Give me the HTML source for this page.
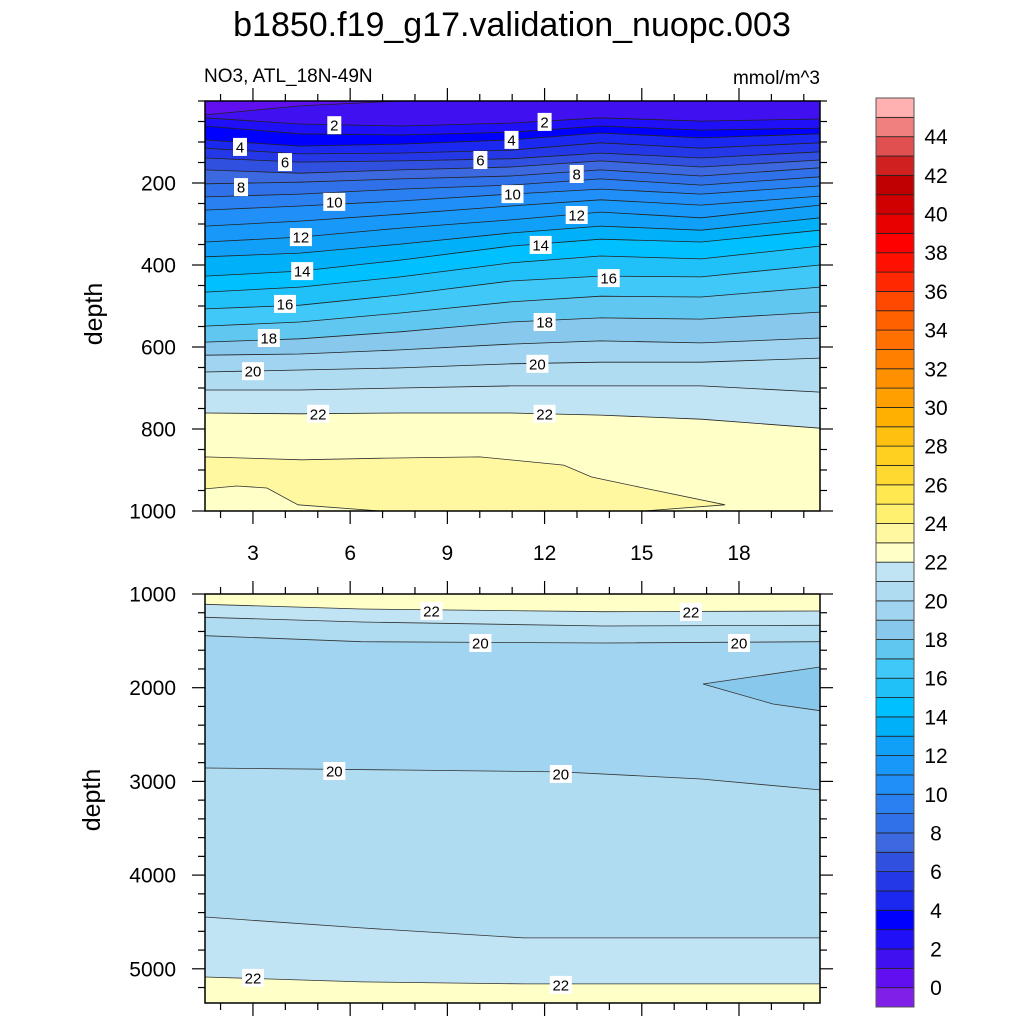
<!DOCTYPE html>
<html><head><meta charset="utf-8">
<style>
html,body{margin:0;padding:0;background:#fff;}
svg{display:block;font-family:"Liberation Sans",Arial,sans-serif;}
</style></head>
<body>
<svg id="chart" width="1024" height="1024" viewBox="0 0 1024 1024" xmlns="http://www.w3.org/2000/svg">
<text x="512" y="36" font-size="34" text-anchor="middle">b1850.f19_g17.validation_nuopc.003</text>
<text x="204" y="82" font-size="19">NO3, ATL_18N-49N</text>
<text x="820" y="84" font-size="19" text-anchor="end">mmol/m^3</text>
<text transform="translate(102,314) rotate(-90)" font-size="25" text-anchor="middle">depth</text>
<text transform="translate(100,800) rotate(-90)" font-size="25" text-anchor="middle">depth</text>
<g id="top-panel"></g>
<g id="bottom-panel"></g>
<g id="colorbar"></g>
</svg>
<script>
// ---- colour scale ----
const colorLevels = [0,1,2,3,4,5,6,7,8,9,10,11,12,13,14,15,16,17,18,19,20,21,22,23,24,25,26,27,28,29,30,31,32,33,34,35,36,37,38,39,40,41,42,43,44,45];
const colorbarLabels = [0,2,4,6,8,10,12,14,16,18,20,22,24,26,28,30,32,34,36,38,40,42,44];
const bandColors = ["#7f1fe8","#6010f0","#4010f0","#2010f8","#0000ff","#1a28f0","#2438e8","#3050e0","#3c68e0","#3070e8","#2a80f0","#2090f8","#1898f8","#10a0f8","#00b0f8","#00c0ff","#20c0f8","#40c8f8","#60c8f0","#88c8ec","#a0d4f0","#b0dcf2","#c0e4f4","#ffffc8","#fff8a0","#fff070","#ffe850","#ffd830","#ffd020","#ffc010","#ffb000","#ffa000","#ff9000","#ff8000","#ff7000","#ff6000","#ff4800","#ff2800","#ff1000","#ff0000","#e80000","#d00000","#c00000","#d02020","#e05050","#f08080","#ffb0b0"];

// ---- top panel data (depth in m) ----
const topX = [1.52,4.45,7.55,10.95,13.73,16.83,20.5];
const topLevels = [1,2,3,4,5,6,7,8,9,10,11,12,13,14,15,16,17,18,19,20,21,22];
const topDepths = [
 [34,12,0,0,0,0,0],
 [41,56,61,54,41,49,44],
 [61,80,83,76,61,71,66],
 [95,110,105,95,78,90,80],
 [115,129,127,120,102,115,102],
 [139,149,146,141,127,139,124],
 [168,176,168,161,146,161,144],
 [202,198,190,183,168,183,163],
 [234,227,215,205,190,205,185],
 [266,256,244,227,215,227,207],
 [305,293,276,256,241,254,232],
 [344,332,310,290,271,285,254],
 [380,371,349,322,305,315,285],
 [427,415,388,354,337,344,315],
 [466,454,429,395,378,385,354],
 [507,498,473,439,427,429,400],
 [549,539,517,490,476,478,454],
 [588,580,563,539,529,532,515],
 [620,617,607,593,585,590,578],
 [661,656,651,641,637,637,627],
 [705,705,700,695,695,695,710],
 [761,763,761,761,766,776,798]
];
const topWedgeX = [1.52,4.5,7.08,10,12.59,13.45,15.06,17.57,15.06,6.93,4.39,3.43,2.5,1.52];
const topWedgeD = [868,875,871,868,888,917,944,985,1000,1000,985,944,939,946];
const topWedgeValue = 23;
const topLabelX = [5.51,12.0,2.6,10.98,3.99,10.02,2.63,12.99,5.51,11.01,4.48,12.99,4.52,11.88,3.99,13.98,3.49,12.0,3.0,11.78,5.01,12.0];
const topLabelD = [59,51,112,95,149,144,210,178,246,227,332,278,415,351,495,432,578,539,659,641,763,763];
const topLabelText = ["2","2","4","4","6","6","8","8","10","10","12","12","14","14","16","16","18","18","20","20","22","22"];
const topYTicks = [200,400,600,800,1000];
const xTicks = [3,6,9,12,15,18];

// ---- bottom panel data ----
const bX4 = [1.52,6.34,13.83,20.5];
const b22aD = [1110,1160,1189,1181];
const b21aD = [1249,1299,1341,1334];
const b20aD = [1445,1509,1523,1509];
const b20bX = [1.52,7.55,12.5,16.83,20.5];
const b20bD = [2857,2878,2899,2974,3091];
const bLowX = [1.52,6.34,11.35,20.5];
const b21bD = [4447,4564,4670,4670];
const b22bD = [5087,5140,5161,5161];
const bWedgeX = [20.5,16.89,19.05,20.5];
const bWedgeD = [1779,1960,2174,2245];
const botLabelX = [8.51,16.52,10.02,18.0,5.51,12.5,3.0,12.5];
const botLabelD = [1181,1192,1523,1523,2889,2921,5097,5172];
const botLabelText = ["22","22","20","20","20","20","22","22"];
const botYTicks = [1000,2000,3000,4000,5000];

const NS = "http://www.w3.org/2000/svg";
function mk(tag, attrs, parent){
  const e = document.createElementNS(NS, tag);
  for (const k in attrs) e.setAttribute(k, attrs[k]);
  parent.appendChild(e);
  return e;
}
const L = 205, R = 820;
function xs(x){ return L + (x - 1.52) * (R - L) / (20.5 - 1.52); }
function ysTop(d){ return 101 + d * 0.41; }
function ysBot(d){ return 594 + (d - 1000) * 0.0937; }
function colorOf(v){ return bandColors[v + 1]; }

function pts(X, D, ys){ return X.map((x,i)=> xs(x).toFixed(1)+","+ys(D[i]).toFixed(1)); }

function drawLabel(g, x, y, t){
  const w = t.length > 1 ? 22 : 14;
  const r = mk('rect', {x:(x-w/2).toFixed(1), y:(y-9).toFixed(1), width:w, height:18, fill:'#fff'}, g);
  
  
  const tx = mk('text', {x:x.toFixed(1), y:(y+5.5).toFixed(1), 'font-size':15, 'text-anchor':'middle'}, g);
  
  
  tx.textContent = t;
}

function drawAxes(g, top, bottom, yTicks, ys, minorStep, minorStart, minorEnd, showXLabels){
  for (let d = minorStart; d <= minorEnd + 0.01; d += minorStep){
    const y = ys(d);
    if (y < top - 0.5 || y > bottom + 0.5) continue;
    const major = yTicks.indexOf(Math.round(d)) >= 0;
    const len = major ? 13 : 7;
    const t1 = mk('line', {x1:L, x2:L-len, y1:y, y2:y, stroke:'#000', 'stroke-width':1.2}, g);
    
    
    const t2 = mk('line', {x1:R, x2:R+len, y1:y, y2:y, stroke:'#000', 'stroke-width':1.2}, g);
    
    
    if (major){
      const tl = mk('text', {x:L-29, y:y+7.5, 'font-size':21, 'text-anchor':'end'}, g);
      
      
      tl.textContent = Math.round(d);
    }
  }
  for (let x = 2; x <= 20; x++){
    const px = xs(x);
    const major = xTicks.indexOf(x) >= 0;
    const len = major ? 13 : 7;
    const a = mk('line', {x1:px, x2:px, y1:top, y2:top-len, stroke:'#000', 'stroke-width':1.2}, g);
    
    
    const b = mk('line', {x1:px, x2:px, y1:bottom, y2:bottom+len, stroke:'#000', 'stroke-width':1.2}, g);
    
    
    if (major && showXLabels){
      const tl = mk('text', {x:px, y:bottom+49, 'font-size':21, 'text-anchor':'middle'}, g);
      
      
      tl.textContent = x;
    }
  }
  const fr = mk('rect', {x:L, y:top, width:R-L, height:bottom-top, fill:'none', stroke:'#000', 'stroke-width':1.5}, g);
  
  
}

// ---- top panel ----
(function(){
  const g = document.getElementById('top-panel');
  const T = 101, B = 511;
  const cp = mk('clipPath', {id:'clipTop'}, g);
  mk('rect', {x:L, y:T, width:R-L, height:B-T}, cp);
  const fills = mk('g', {'clip-path':'url(#clipTop)'}, g);
  const bg = mk('rect', {x:L, y:T, width:R-L, height:B-T, fill:colorOf(22)}, fills);
  
  
  for (let i = topLevels.length - 1; i >= 0; i--){
    const p = pts(topX, topDepths[i], ysTop);
    const poly = mk('polygon', {points: L+","+(T-2)+" "+p.join(" ")+" "+R+","+(T-2), fill: colorOf(topLevels[i]-1)}, fills);
    
    
  }
  const wedge = mk('polygon', {points: pts(topWedgeX, topWedgeD, ysTop).join(" "), fill: colorOf(topWedgeValue), stroke:'#333', 'stroke-width':0.8}, fills);
  
  
  for (let i = 0; i < topLevels.length; i++){
    const pl = mk('polyline', {points: pts(topX, topDepths[i], ysTop).join(" "), fill:'none', stroke:'#222', 'stroke-width':0.8}, fills);
    
    
  }
  for (let i = 0; i < topLabelText.length; i++) drawLabel(g, xs(topLabelX[i]), ysTop(topLabelD[i]), topLabelText[i]);
  drawAxes(g, T, B, topYTicks, ysTop, 50, 0, 1000, true);
})();

// ---- bottom panel ----
(function(){
  const g = document.getElementById('bottom-panel');
  const T = 594, B = 1003;
  const cp = mk('clipPath', {id:'clipBot'}, g);
  mk('rect', {x:L, y:T, width:R-L, height:B-T}, cp);
  const fills = mk('g', {'clip-path':'url(#clipBot)'}, g);
  const bg = mk('rect', {x:L, y:T, width:R-L, height:B-T, fill:colorOf(22)}, fills);
  
  
  function band(xa, da, xb, db, v, name){
    const pa = pts(xa, da, ysBot), pb = pts(xb, db, ysBot).reverse();
    const poly = mk('polygon', {points: pa.concat(pb).join(" "), fill: colorOf(v)}, fills);
    
    
  }
  band(bX4, b22aD, bLowX, b22bD, 21, 'band-21');
  band(bX4, b21aD, bLowX, b21bD, 20, 'band-20');
  band(bX4, b20aD, b20bX, b20bD, 19, 'band-19');
  const w = mk('polygon', {points: pts(bWedgeX, bWedgeD, ysBot).join(" "), fill: colorOf(18), stroke:'#333', 'stroke-width':0.8}, fills);
  
  
  const lines = [[bX4,b22aD,'22'],[bX4,b21aD,'21'],[bX4,b20aD,'20'],[b20bX,b20bD,'20'],[bLowX,b21bD,'21'],[bLowX,b22bD,'22']];
  for (const ln of lines){
    const pl = mk('polyline', {points: pts(ln[0], ln[1], ysBot).join(" "), fill:'none', stroke:'#333', 'stroke-width':0.8}, fills);
    
    
  }
  for (let i = 0; i < botLabelText.length; i++) drawLabel(g, xs(botLabelX[i]), ysBot(botLabelD[i]), botLabelText[i]);
  drawAxes(g, T, B, botYTicks, ysBot, 200, 1000, 5400, false);
})();

// ---- colorbar ----
(function(){
  const g = document.getElementById('colorbar');
  const x0 = 876, w = 38, bottom = 1007, top = 98;
  const n = bandColors.length;
  const h = (bottom - top) / n;
  for (let i = 0; i < n; i++){
    const r = mk('rect', {x:x0, y:(bottom - (i+1)*h).toFixed(2), width:w, height:h.toFixed(2), fill:bandColors[i], stroke:'#222', 'stroke-width':0.8}, g);
    
    
  }
  const out = mk('rect', {x:x0, y:top, width:w, height:bottom-top, fill:'none', stroke:'#555', 'stroke-width':1}, g);
  
  
  for (const v of colorbarLabels){
    const idx = colorLevels.indexOf(v);
    const y = bottom - (idx + 1) * h;
    const t = mk('text', {x:x0+60, y:(y+7.5).toFixed(1), 'font-size':21, 'text-anchor':'middle'}, g);
    
    
    t.textContent = v;
  }
})();
</script>
</body></html>
